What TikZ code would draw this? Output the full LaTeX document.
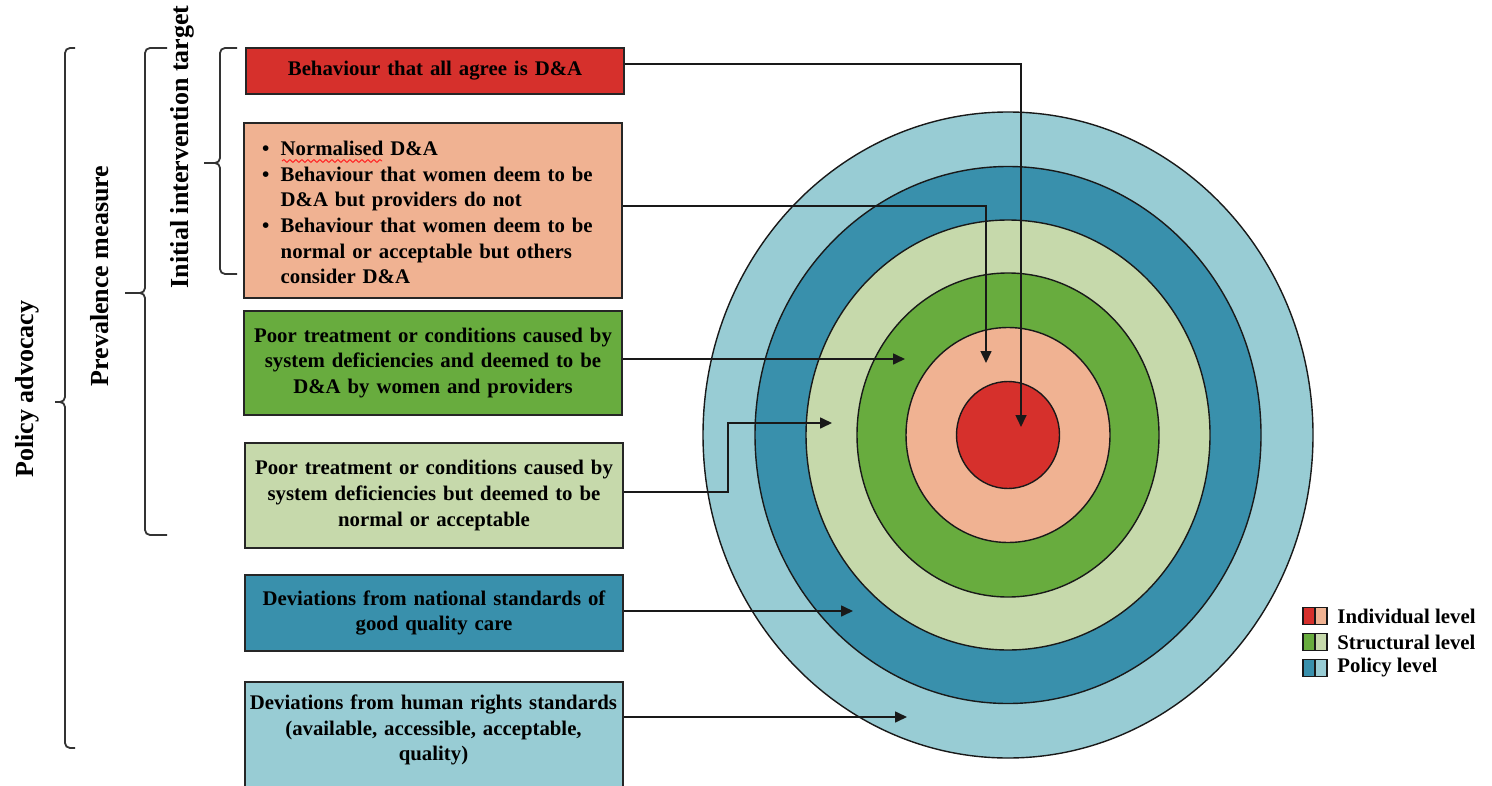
\documentclass[tikz,border=0pt]{standalone}
\usepackage{fontspec}
\setmainfont{Liberation Serif}
\usetikzlibrary{arrows.meta,decorations.pathmorphing}

\definecolor{dared}{RGB}{214,48,44}
\definecolor{salmon}{RGB}{240,178,146}
\definecolor{dgreen}{RGB}{104,172,62}
\definecolor{lgreen}{RGB}{198,217,171}
\definecolor{dteal}{RGB}{57,144,172}
\definecolor{lblue}{RGB}{152,204,212}

\begin{document}
\begin{tikzpicture}[x=0.5pt,y=-0.5pt,
  box/.style={draw=black!85, line width=1pt, minimum width=189pt,
    inner xsep=2pt, inner ysep=2pt, text width=185pt, align=center,
    font=\fontsize{10.4}{12.8}\selectfont\bfseries},
  ring/.style={draw=black!90, line width=0.7pt},
  conn/.style={draw=black!90, line width=0.8pt,
    -{Triangle[length=6pt,width=5.5pt]}},
  brk/.style={draw=black!80, line width=0.9pt, rounded corners=2.5pt},
  lab/.style={font=\fontsize{13}{15}\selectfont\bfseries, inner sep=0pt},
  legsq/.style={draw=black!90, line width=0.6pt, minimum width=6pt,
    minimum height=8.5pt, inner sep=0pt},
  legtxt/.style={font=\fontsize{10.4}{12}\selectfont\bfseries, anchor=west, inner sep=0pt}]

\useasboundingbox (0,0) rectangle (1492,786);

% concentric levels
\path[ring, fill=lblue]  (1008,435) ellipse [x radius=152.5pt, y radius=161.5pt];
\path[ring, fill=dteal]  (1008,435) ellipse [x radius=126.5pt, y radius=134.25pt];
\path[ring, fill=lgreen] (1008,435) ellipse [x radius=101pt,   y radius=107.5pt];
\path[ring, fill=dgreen] (1008,435) ellipse [x radius=75.5pt,  y radius=81pt];
\path[ring, fill=salmon] (1008,435) ellipse [x radius=51pt,    y radius=53.75pt];
\path[ring, fill=dared]  (1008,435) ellipse [x radius=25.75pt, y radius=26.75pt];

% category boxes
\node[box, fill=dared, minimum height=23pt] (b1) at (435,71)
  {Behaviour that all agree is D\&A};
\node[box, fill=salmon, minimum height=87.5pt, align=left] (b2) at (433,210.5)
  {\begin{tabular}{@{\hspace{7pt}}c@{\hspace{5.7pt}}l@{}}
   \noalign{\vskip 4pt}
   \textbullet & Normalised D\&A\\
   \textbullet & Behaviour that women deem to be\\
               & D\&A but providers do not\\
   \textbullet & Behaviour that women deem to be\\
               & normal or acceptable but others\\
               & consider D\&A
   \end{tabular}};
\node[box, fill=dgreen, minimum height=52pt] (b3) at (433,363)
  {Poor treatment or conditions caused by\\ system deficiencies and deemed to be\\ D\&A by women and providers};
\node[box, fill=lgreen, minimum height=52.5pt] (b4) at (434,495.5)
  {Poor treatment or conditions caused by\\ system deficiencies but deemed to be\\ normal or acceptable};
\node[box, fill=dteal, minimum height=38pt] (b5) at (434,613)
  {Deviations from national standards of\\ good quality care};
\node[box, fill=lblue, minimum height=57pt] (b6) at (433.5,739) {};
\node[box, draw=none, fill=none] (b6t) at (433.5,730)
  {Deviations from human rights standards\\ (available, accessible, acceptable,\\ quality)};

% spell-check underline
\draw[red!85, line width=0.5pt, decorate,
  decoration={snake, amplitude=0.7pt, segment length=3pt}] (282,161) -- (382,161);

% arrow targets inside the rings
\coordinate (t1) at (1021,427);
\coordinate (t2) at (986,363);
\coordinate (t3) at (905,359);
\coordinate (k4) at (728,423);
\coordinate (t4) at (832,423);
\coordinate (t5) at (853,611);
\coordinate (t6) at (907,717);

\draw[conn] ([yshift=3.5pt]b1.east) -| (t1);
\draw[conn] ([yshift=2.25pt]b2.east) -| (t2);
\draw[conn] ([yshift=2pt]b3.east) -- (t3);
\draw[conn] ([yshift=1.75pt]b4.east) -| (k4) -- (t4);
\draw[conn] ([yshift=1pt]b5.east) -- (t5);
\draw[conn] ([yshift=11pt]b6.east) -- (t6);

% brackets
\draw[brk] (75,48) -- (65,48) -- (65,402) -- (55,402);
\draw[brk] (75,748) -- (65,748) -- (65,402) -- (55,402);
\draw[brk] (167,48) -- (145,48) -- (145,293) -- (125,293);
\draw[brk] (167,535) -- (145,535) -- (145,293) -- (125,293);
\draw[brk] (237,48) -- (220,48) -- (220,163) -- (204,163);
\draw[brk] (237,274) -- (220,274) -- (220,163) -- (204,163);

\node[lab, rotate=90] (lpol) at (27,389) {Policy advocacy};
\node[lab, rotate=90] (lprev) at (100,276) {Prevalence measure};
\node[lab, rotate=90] (linit) at (182,147) {Initial intervention target};

% legend
\node[legsq, fill=dared]  (g1a) at (1309,616) {};
\node[legsq, fill=salmon] (g1b) at (1321,616) {};
\node[legsq, fill=dgreen] (g2a) at (1309,642) {};
\node[legsq, fill=lgreen] (g2b) at (1321,642) {};
\node[legsq, fill=dteal]  (g3a) at (1309,668) {};
\node[legsq, fill=lblue]  (g3b) at (1321,668) {};
\node[legtxt] (g1) at (1337,616) {Individual level};
\node[legtxt] (g2) at (1337,642) {Structural level};
\node[legtxt] (g3) at (1337,668) {Policy level};

\end{tikzpicture}
\end{document}
